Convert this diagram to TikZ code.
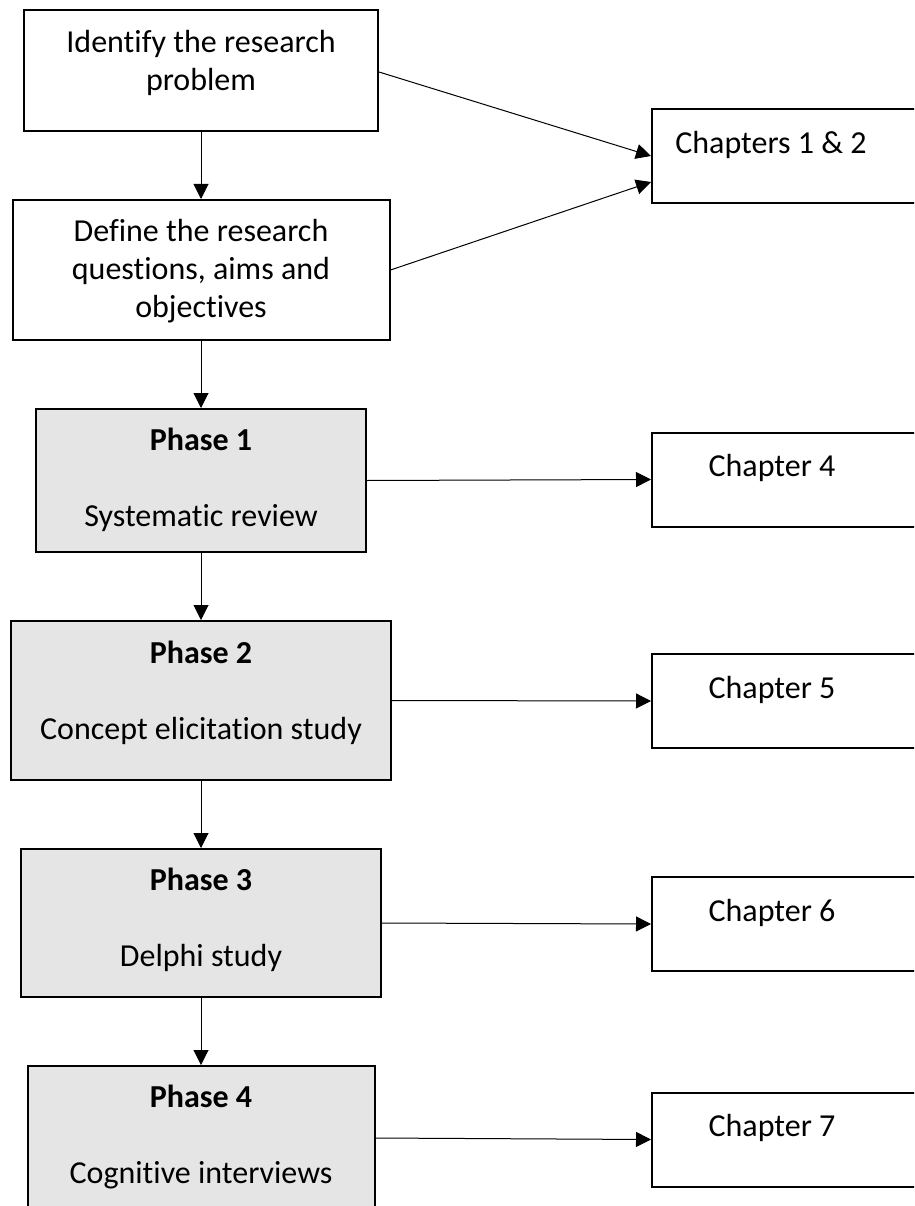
\documentclass[tikz,border=0pt]{standalone}
\usepackage{fontspec}
\setmainfont{Carlito}[Ligatures={NoCommon,NoContextual},Contextuals={NoAlternate}]
\usetikzlibrary{arrows.meta}

% break the t-i ligature of the font
\newcommand{\ti}{t\kern0pt i}

\tikzset{
  box/.style={draw=black, line width=2pt, inner sep=0pt},
  phasebox/.style={box, fill=black!10},
  chapbox/.style={box, minimum width=290pt, minimum height=94pt},
  txt/.style={font=\fontsize{32}{38}\selectfont, align=center, inner sep=0pt},
  link/.style={line width=1pt, -{Triangle[length=15pt,width=15pt]}},
}

\begin{document}
\begin{tikzpicture}[x=1pt, y=-1pt]
  \useasboundingbox (0,0) rectangle (914,1206);
  \clip (0,0) rectangle (914,1206);

  % left column: problem, questions and the four phases
  \node[box, minimum width=354pt, minimum height=121pt] (b1) at (201,70.5) {};
  \node[box, minimum width=377pt, minimum height=140pt] (b2) at (201,270) {};
  \node[phasebox, minimum width=330pt, minimum height=143pt] (p1) at (201,480.5) {};
  \node[phasebox, minimum width=380pt, minimum height=159pt] (p2) at (201,700.5) {};
  \node[phasebox, minimum width=360pt, minimum height=148pt] (p3) at (201,923) {};
  \node[phasebox, minimum width=347pt, minimum height=144pt] (p4) at (201,1138) {};

  \node[txt] (tb1) at (201,63) {Iden\ti fy the research\\problem};
  \node[txt] (tb2) at (201,271) {Define the research\\ques\ti ons, aims and\\objec\ti ves};
  \node[txt] (tp1) at (201,480) {\textbf{Phase 1}\\[38pt]Systema\ti c review};
  \node[txt] (tp2) at (201,692.5) {\textbf{Phase 2}\\[38pt]Concept elicita\ti on study};
  \node[txt] (tp3) at (201,919.5) {\textbf{Phase 3}\\[38pt]Delphi study};
  \node[txt] (tp4) at (201,1137) {\textbf{Phase 4}\\[38pt]Cogni\ti ve interviews};

  % right column: thesis chapters
  \node[chapbox] (c12) at (797,156) {};
  \node[chapbox] (c4) at (797,479.5) {};
  \node[chapbox] (c5) at (797,701) {};
  \node[chapbox] (c6) at (797,924) {};
  \node[chapbox] (c7) at (797,1139.5) {};

  \node[txt] (tc12) at (771,145) {Chapters 1 \& 2};
  \node[txt] (tc4) at (772,468) {Chapter 4};
  \node[txt] (tc5) at (772,690) {Chapter 5};
  \node[txt] (tc6) at (772,913) {Chapter 6};
  \node[txt] (tc7) at (772,1128) {Chapter 7};

  % flow down the left column
  \draw[link] (b1.south) -- (b2.north);
  \draw[link] (b2.south) -- (p1.north);
  \draw[link] (p1.south) -- (p2.north);
  \draw[link] (p2.south) -- (p3.north);
  \draw[link] (p3.south) -- (p4.north);

  % links to the chapters
  \draw[link] ([yshift=-1.5pt]b1.east) -- (c12.west);
  \draw[link] (b2.east) -- ([yshift=-26pt]c12.west);
  \draw[link] (p1.east) -- (c4.west);
  \draw[link] (p2.east) -- (c5.west);
  \draw[link] (p3.east) -- (c6.west);
  \draw[link] (p4.east) -- (c7.west);
\end{tikzpicture}
\end{document}
